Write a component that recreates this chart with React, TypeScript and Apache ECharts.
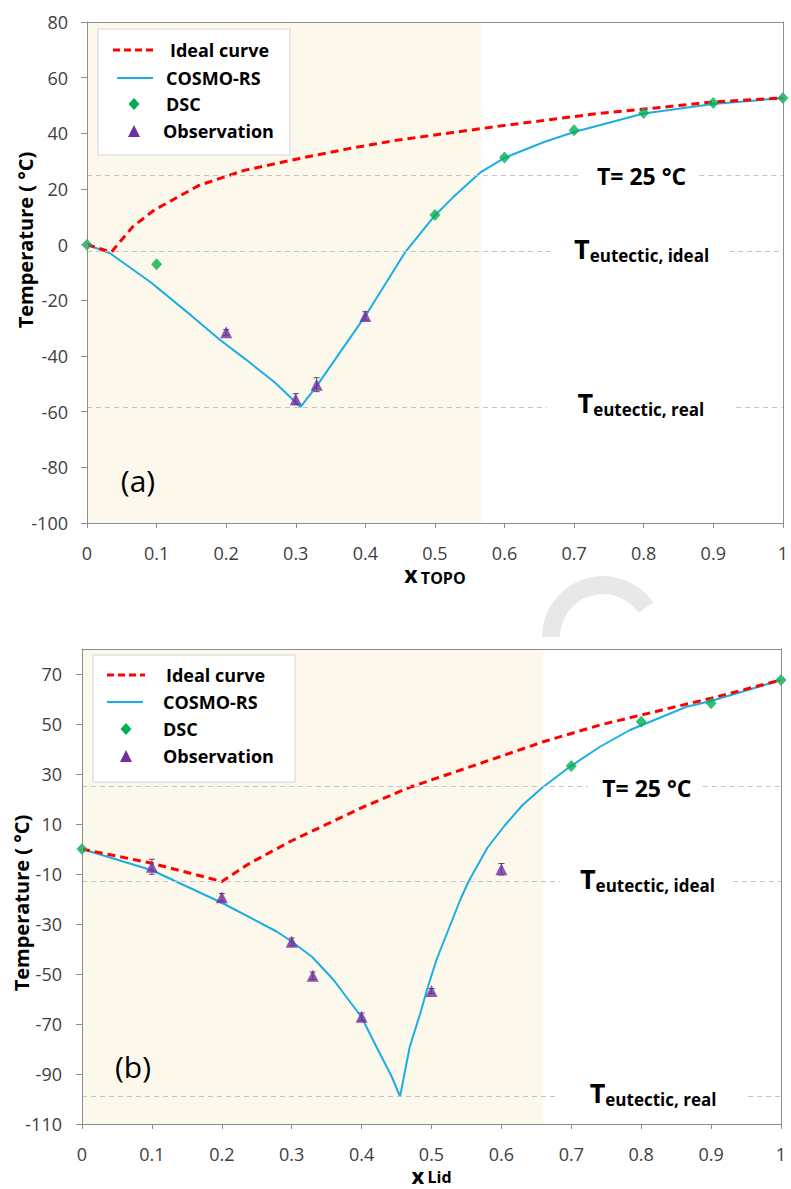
import React, { useEffect, useRef } from "react";
import * as echarts from "echarts";

// ---------- Panel (a): x TOPO ----------
const idealA: number[][] = [
  [0, 0], [0.035, -2.7], [0.045, 0.3], [0.066, 6.5], [0.097, 12.5], [0.161, 21.3],
  [0.226, 26.7], [0.304, 30.9], [0.376, 34.5], [0.447, 37.6], [0.59, 42.5],
  [0.733, 47.1], [0.809, 48.9], [0.9, 51.3], [1, 52.7],
];
const cosmoA: number[][] = [
  [0, 0], [0.033, -3.1], [0.092, -13.6], [0.15, -25.5], [0.19, -34], [0.228, -41.2],
  [0.27, -49.5], [0.307, -58.3], [0.33, -50.8], [0.4, -25.6], [0.457, -2.8],
  [0.5, 10.5], [0.526, 17], [0.566, 26.1], [0.6, 31.2], [0.657, 36.9], [0.7, 40.5],
  [0.8, 47.1], [0.9, 50.5], [1, 52.7],
];
const dscAx = [0, 0.1, 0.5, 0.6, 0.7, 0.8, 0.9, 1];
const dscAy = [0, -7, 10.7, 31.3, 41.1, 47.3, 50.9, 52.7];
const obsAx = [0.2, 0.3, 0.33, 0.4];
const obsAy = [-31.5, -55.5, -50.3, -25.6];
const obsAerr = [1, 2, 2.5, 1.5];
const shadeEndA = 0.567;
const eutIdealA = -2.5;
const eutRealA = -58.3;

// ---------- Panel (b): x Lid ----------
const idealB: number[][] = [
  [0, 0], [0.1, -5.7], [0.2, -13], [0.24, -5.7], [0.3, 3.3], [0.36, 11.2], [0.4, 16.5],
  [0.469, 24.7], [0.584, 35.6], [0.66, 42.9], [0.741, 49.6], [0.8, 53.6], [0.9, 60.3],
  [1, 67.6],
];
const cosmoB: number[][] = [
  [0, 0], [0.1, -8.5], [0.2, -21.5], [0.279, -33.1], [0.3, -37], [0.329, -43.1],
  [0.36, -52.4], [0.4, -67.3], [0.421, -79], [0.443, -91], [0.455, -99], [0.469, -79],
  [0.484, -65.7], [0.493, -56.8], [0.507, -44.4], [0.526, -31], [0.541, -20.4],
  [0.553, -13], [0.58, 0.5], [0.605, 9.5], [0.63, 17.5], [0.66, 24.9], [0.698, 32.9],
  [0.741, 40.9], [0.784, 47.6], [0.865, 56.9], [0.9, 59.2], [1, 67.6],
];
const dscBx = [0, 0.7, 0.8, 0.9, 1];
const dscBy = [0, 33.2, 50.9, 58.3, 67.6];
const obsBx = [0.1, 0.2, 0.3, 0.33, 0.4, 0.5, 0.6];
const obsBy = [-7.1, -19.3, -37.1, -50.7, -67.1, -56.8, -8.1];
const obsBerr = [3, 1.5, 1.5, 1.5, 1.5, 1, 2.3];
const shadeEndB = 0.66;
const eutIdealB = -13;
const eutRealB = -99;
const yTicksB = [-110, -90, -70, -50, -30, -10, 10, 30, 50, 70];

// ---------- shared ----------
const T25 = 25;
const legendNames = ["Ideal curve", "COSMO-RS", "DSC", "Observation"];
const panelTags = ["(a)", "(b)"];
const yTitle = "Temperature ( °C)";

const FONT = '"Open Sans", "Noto Sans", sans-serif';
const RED = "#FF0000";
const BLUE = "#1AAEE3";
const GREEN = "#00B050";
const PURPLE = "#7030A0";
const SHADE = "#FDF8EC";
const AXIS = "#8c8c8c";
const REF = "#c4c4c4";

const richAnn: any = {
  T: { fontSize: 27, fontWeight: "bold", color: "#000", fontFamily: FONT, lineHeight: 30 },
  s: { fontSize: 17, fontWeight: "bold", color: "#000", fontFamily: FONT, lineHeight: 12, verticalAlign: "bottom" },
  n: { fontSize: 23, fontWeight: "bold", color: "#000", fontFamily: FONT },
};

function refSegs(y: number, gapFrom: number, gapTo: number) {
  return [
    [{ coord: [0, y] }, { coord: [gapFrom, y] }],
    [{ coord: [gapTo, y] }, { coord: [1, y] }],
  ];
}

function panelSeries(
  i: number,
  ideal: number[][],
  cosmo: number[][],
  dx: number[], dy: number[],
  ox: number[], oy: number[], oe: number[],
  shadeEnd: number,
  eutIdeal: number, eutReal: number,
  gaps: number[][],
  annX: number[],
) {
  const ax = { xAxisIndex: i, yAxisIndex: i };
  return [
    {
      ...ax,
      type: "line",
      data: [],
      z: 1,
      silent: true,
      markArea: {
        silent: true,
        itemStyle: { color: SHADE },
        data: [[{ xAxis: 0 }, { xAxis: shadeEnd }]],
      },
      markLine: {
        silent: true,
        symbol: "none",
        label: { show: false },
        lineStyle: { color: REF, type: [5, 4], width: 1 },
        data: [
          ...refSegs(T25, gaps[0][0], gaps[0][1]),
          ...refSegs(eutIdeal, gaps[1][0], gaps[1][1]),
          ...refSegs(eutReal, gaps[2][0], gaps[2][1]),
        ],
      },
      markPoint: {
        silent: true,
        symbol: "circle",
        symbolSize: 1,
        itemStyle: { color: "rgba(0,0,0,0)" },
        label: { show: true, position: "inside", rich: richAnn },
        data: [
          { coord: [annX[0], T25], label: { formatter: "{n|T= 25 °C}", offset: [0, 1] } },
          { coord: [annX[1], eutIdeal], label: { formatter: "{T|T}{s|eutectic, ideal}", offset: [0, -3] } },
          { coord: [annX[2], eutReal], label: { formatter: "{T|T}{s|eutectic, real}", offset: [0, -4] } },
        ],
      },
    },
    {
      ...ax,
      name: legendNames[1],
      type: "line",
      data: cosmo,
      z: 3,
      symbol: "none",
      lineStyle: { color: BLUE, width: 2 },
    },
    {
      ...ax,
      name: legendNames[0],
      type: "line",
      data: ideal,
      z: 4,
      symbol: "none",
      lineStyle: { color: RED, width: 3, type: [8, 5] },
    },
    {
      ...ax,
      name: legendNames[2],
      type: "scatter",
      data: dx.map((x, k) => [x, dy[k]]),
      z: 5,
      symbol: "diamond",
      symbolSize: [11, 12],
      itemStyle: { color: GREEN },
    },
    {
      ...ax,
      type: "custom",
      z: 5,
      data: ox.map((x, k) => [x, oy[k], oe[k]]),
      renderItem: (params: any, api: any) => {
        const x = api.value(0), y = api.value(1), e = api.value(2);
        const t = api.coord([x, y + e]);
        const b = api.coord([x, y - e]);
        const st = { stroke: "#5a4a66", lineWidth: 1 };
        return {
          type: "group",
          children: [
            { type: "line", shape: { x1: t[0], y1: t[1], x2: b[0], y2: b[1] }, style: st },
            { type: "line", shape: { x1: t[0] - 3, y1: t[1], x2: t[0] + 3, y2: t[1] }, style: st },
            { type: "line", shape: { x1: b[0] - 3, y1: b[1], x2: b[0] + 3, y2: b[1] }, style: st },
          ],
        };
      },
    },
    {
      ...ax,
      name: legendNames[3],
      type: "scatter",
      data: ox.map((x, k) => [x, oy[k]]),
      z: 6,
      symbol: "triangle",
      symbolSize: 12,
      itemStyle: { color: PURPLE },
    },
  ];
}

function legendBox(bx: number, by: number, bw: number, bh: number, rows: number[], sx: number, lineX: number[][], tx: number[]) {
  const txt = (k: number) => ({
    type: "text",
    x: tx[k],
    y: rows[k],
    z: 21,
    style: { text: legendNames[k], fontSize: 18, fontWeight: "bold", fontFamily: FONT, fill: "#000", verticalAlign: "middle", align: "left" },
  });
  return [
    { type: "rect", z: 20, shape: { x: bx, y: by, width: bw, height: bh }, style: { fill: "#fff", stroke: "#d4d4d4", lineWidth: 1 } },
    { type: "line", z: 21, shape: { x1: lineX[0][0], y1: rows[0], x2: lineX[0][1], y2: rows[0] }, style: { stroke: RED, lineWidth: 3, lineDash: [7, 4] } },
    { type: "line", z: 21, shape: { x1: lineX[1][0], y1: rows[1], x2: lineX[1][1], y2: rows[1] }, style: { stroke: BLUE, lineWidth: 2 } },
    { type: "polygon", z: 21, shape: { points: [[sx, rows[2] - 6], [sx + 5.5, rows[2]], [sx, rows[2] + 6], [sx - 5.5, rows[2]]] }, style: { fill: GREEN } },
    { type: "polygon", z: 21, shape: { points: [[sx, rows[3] - 6], [sx + 6, rows[3] + 6], [sx - 6, rows[3] + 6]] }, style: { fill: PURPLE } },
    txt(0), txt(1), txt(2), txt(3),
  ];
}

export default function App() {
  const ref = useRef<HTMLDivElement>(null);
  useEffect(() => {
    if (!ref.current) return;
    const chart = echarts.init(ref.current, undefined, { renderer: "svg" });

    const labelStyle = { color: "#404040", fontSize: 18, fontFamily: FONT };
    const xMain = (gi: number, title: string, sub: string, gap: number, xs: number, lh: number) => ({
      gridIndex: gi,
      type: "value",
      min: 0,
      max: 1,
      interval: 0.1,
      z: 10,
      axisLine: { show: true, onZero: false, lineStyle: { color: AXIS } },
      axisTick: { show: true, length: 5, lineStyle: { color: AXIS } },
      axisLabel: { ...labelStyle, margin: 21 },
      splitLine: { show: false },
      name: `{x|${title}} {s|${sub}}`,
      nameLocation: "middle",
      nameGap: gap,
      nameTextStyle: {
        rich: {
          x: { fontSize: xs, fontWeight: "bold", color: "#000", fontFamily: FONT, lineHeight: lh },
          s: { fontSize: 16, fontWeight: "bold", color: "#000", fontFamily: FONT, lineHeight: 14, verticalAlign: "bottom" },
        },
      },
    });
    const xFrame = (gi: number) => ({
      gridIndex: gi, type: "value", min: 0, max: 1, position: "top", z: 10,
      axisLine: { show: true, onZero: false, lineStyle: { color: AXIS } },
      axisTick: { show: false }, axisLabel: { show: false }, splitLine: { show: false },
    });
    const yFrame = (gi: number, min: number, max: number) => ({
      gridIndex: gi, type: "value", min, max, position: "right", z: 10,
      axisLine: { show: true, onZero: false, lineStyle: { color: AXIS } },
      axisTick: { show: false }, axisLabel: { show: false }, splitLine: { show: false },
    });

    chart.setOption({
      animation: false,
      backgroundColor: "#fff",
      grid: [
        { left: 87, top: 22, width: 700, height: 501 },
        { left: 82, top: 649, width: 699, height: 475 },
      ],
      xAxis: [xMain(0, "x", "TOPO", 37, 23, 24), xMain(1, "x", "Lid", 31, 22, 20), xFrame(0), xFrame(1)],
      yAxis: [
        {
          gridIndex: 0, type: "value", min: -100, max: 80, interval: 20, z: 10,
          axisLine: { show: true, onZero: false, lineStyle: { color: AXIS } },
          axisTick: { show: true, length: 6, lineStyle: { color: AXIS } },
          axisLabel: { ...labelStyle, margin: 19 },
          splitLine: { show: false },
        },
        {
          gridIndex: 1, type: "value", min: -110, max: 80, interval: 20, z: 10,
          axisLine: { show: true, onZero: false, lineStyle: { color: AXIS } },
          axisTick: { show: true, length: 6, lineStyle: { color: AXIS }, customValues: yTicksB },
          axisLabel: { ...labelStyle, margin: 20, customValues: yTicksB },
          splitLine: { show: false },
        },
        yFrame(0, -100, 80),
        yFrame(1, -110, 80),
      ],
      series: [
        ...panelSeries(0, idealA, cosmoA, dscAx, dscAy, obsAx, obsAy, obsAerr, shadeEndA, eutIdealA, eutRealA,
          [[0.711, 0.88], [0.671, 0.923], [0.661, 0.933]], [0.797, 0.797, 0.796]),
        ...panelSeries(1, idealB, cosmoB, dscBx, dscBy, obsBx, obsBy, obsBerr, shadeEndB, eutIdealB, eutRealB,
          [[0.724, 0.888], [0.684, 0.931], [0.681, 0.953]], [0.808, 0.809, 0.817]),
      ],
      graphic: [
        {
          type: "arc", z: 0, silent: true,
          shape: { cx: 603, cy: 637, r: 52, startAngle: Math.PI, endAngle: 2 * Math.PI - 0.6, clockwise: true },
          style: { stroke: "#e8e8e8", lineWidth: 18, fill: null },
        },
        ...legendBox(98, 29, 192, 126, [50, 78, 104, 131], 134, [[113, 155], [117, 153]], [170, 166, 166, 163]),
        ...legendBox(93, 655, 202, 127, [675, 702, 729, 756], 126, [[107, 145], [107, 143]], [166, 163, 163, 163]),
        {
          type: "text", x: 25, y: 240, rotation: Math.PI / 2, z: 20,
          style: { text: yTitle, fontSize: 20, fontWeight: "bold", fontFamily: FONT, fill: "#000", align: "center", verticalAlign: "middle" },
        },
        {
          type: "text", x: 21, y: 903, rotation: Math.PI / 2, z: 20,
          style: { text: yTitle, fontSize: 20, fontWeight: "bold", fontFamily: FONT, fill: "#000", align: "center", verticalAlign: "middle" },
        },
        {
          type: "text", x: 138, y: 480, z: 20,
          style: { text: panelTags[0], fontSize: 30, fontFamily: FONT, fill: "#000", align: "center", verticalAlign: "middle" },
        },
        {
          type: "text", x: 133, y: 1066, z: 20,
          style: { text: panelTags[1], fontSize: 30, fontFamily: FONT, fill: "#000", align: "center", verticalAlign: "middle" },
        },
      ],
    });
    return () => chart.dispose();
  }, []);
  return <div ref={ref} style={{ position: "absolute", left: 0, top: 0, width: 791, height: 1189 }} />;
}
